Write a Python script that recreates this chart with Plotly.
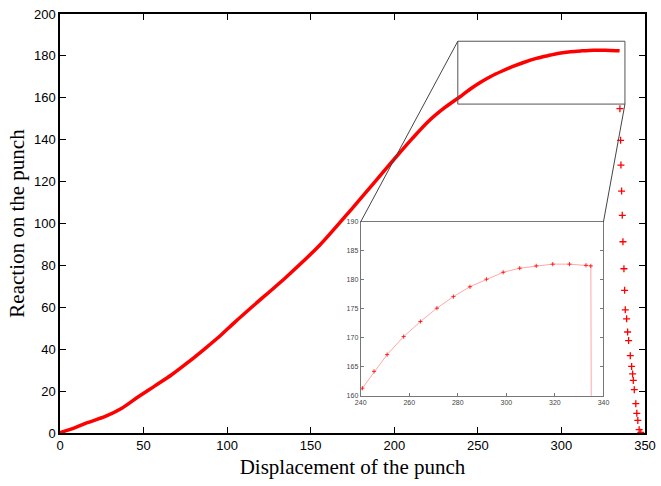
import plotly.graph_objects as go

# loading curve (dense part)
disp = [0, 1.4, 8, 15.2, 27.1, 37.0, 46.9, 56.8, 66.8, 76.7, 86.6, 95.7, 104.5,
        115.5, 135.4, 155.2, 175.1, 188, 200.8, 210.7, 220.5, 230.5,
        240.7, 245.5, 250.9, 257.7, 264.6, 271.4, 278.2, 285.0, 291.8,
        298.7, 305.5, 312.3, 319.1, 326.0, 332.8, 334.8]
force = [0, 0.5, 2.2, 4.6, 7.9, 11.8, 17.3, 22.5, 27.8, 33.8, 40.2, 46.3, 52.8,
         60.6, 74.5, 89.5, 107.5, 119.5, 131.5, 140.5, 148.8, 155.5,
         161.3, 164.2, 167.1, 170.2, 172.8, 175.1, 177.1, 178.8, 180.1,
         181.3, 182.0, 182.4, 182.7, 182.7, 182.5, 182.4]

# unloading tail (sparse points)
tail_disp = [335.0, 335.4, 335.6, 336.0, 336.4, 336.8, 337.4, 337.8, 338.2, 339.0,
             339.6, 340.2, 341.2, 342.0, 342.6, 343.0, 343.6, 344.5, 345.1, 345.7,
             346.5, 347.5]
tail_force = [154.8, 139.7, 127.9, 115.5, 103.9, 91.3, 78.4, 68.1, 58.8, 54.5,
              48.2, 44.1, 36.9, 31.8, 28.2, 25.1, 20.7, 14.0, 9.4, 6.0, 1.6, 0.3]

x_ticks = [0, 50, 100, 150, 200, 250, 300, 350]
y_ticks = [0, 20, 40, 60, 80, 100, 120, 140, 160, 180, 200]
zoom_x_ticks = [240, 260, 280, 300, 320, 340]
zoom_y_ticks = [160, 165, 170, 175, 180, 185, 190]

# zoom box on main axes and inset placement
box_x = [238, 338]
box_y = [157, 187]
inset_dom_x = [0.514, 0.929]
inset_dom_y = [0.089, 0.504]

RED = "#ff0000"
fig = go.Figure()

fig.add_trace(go.Scatter(x=disp, y=force, mode="lines",
                         line=dict(color=RED, width=3.5, shape="spline", smoothing=0.8),
                         showlegend=False))
fig.add_trace(go.Scatter(x=tail_disp, y=tail_force, mode="markers",
                         marker=dict(symbol="cross-thin", size=5, color=RED,
                                     line=dict(color=RED, width=1.3)),
                         showlegend=False))

# inset
fig.add_trace(go.Scatter(x=disp + tail_disp, y=force + tail_force, mode="lines+markers",
                         line=dict(color="rgba(255,0,0,0.35)", width=1),
                         marker=dict(symbol="cross-thin", size=3, color=RED,
                                     line=dict(color=RED, width=0.8)),
                         xaxis="x2", yaxis="y2", showlegend=False, cliponaxis=True))

axis_common = dict(showgrid=False, zeroline=False, ticks="inside", mirror="ticks",
                   showline=True, linecolor="black", linewidth=1.5,
                   tickcolor="black", ticklen=6, automargin=False)
fig.update_layout(
    width=661, height=486,
    margin=dict(l=60, r=10, t=14, b=53),
    plot_bgcolor="white", paper_bgcolor="white",
    font=dict(family="Liberation Sans", size=13, color="black"),
    xaxis=dict(range=[0, 350], tickvals=x_ticks, **axis_common,
               title=dict(text="Displacement of the punch", standoff=7,
                          font=dict(family="Liberation Serif", size=21))),
    yaxis=dict(range=[0, 200], tickvals=y_ticks, **axis_common,
               title=dict(text="Reaction on the punch", standoff=4,
                          font=dict(family="Liberation Serif", size=21))),
    xaxis2=dict(domain=inset_dom_x, anchor="y2", range=[240, 340], tickvals=zoom_x_ticks,
                showgrid=False, zeroline=False, showline=True, mirror=True,
                linecolor="#777", linewidth=1, ticks="inside", ticklen=3, tickcolor="#777",
                tickfont=dict(size=7, color="#444")),
    yaxis2=dict(domain=inset_dom_y, anchor="x2", range=[160, 190], tickvals=zoom_y_ticks,
                showgrid=False, zeroline=False, showline=True, mirror="ticks",
                linecolor="#777", linewidth=1, ticks="inside", ticklen=3, tickcolor="#777",
                tickfont=dict(size=7, color="#444")),
)

# box around the zoomed region
fig.add_shape(type="rect", xref="x", yref="y", x0=box_x[0], x1=box_x[1],
              y0=box_y[0], y1=box_y[1], line=dict(color="#555", width=1))
# connectors from box to inset (paper coords)
fig.add_shape(type="line", xref="paper", yref="paper",
              x0=box_x[0] / 350, y0=box_y[1] / 200,
              x1=inset_dom_x[0], y1=inset_dom_y[1], line=dict(color="#444", width=1))
fig.add_shape(type="line", xref="paper", yref="paper",
              x0=box_x[1] / 350, y0=box_y[0] / 200,
              x1=inset_dom_x[1], y1=inset_dom_y[1], line=dict(color="#444", width=1))
# white background for the inset
fig.add_shape(type="rect", xref="paper", yref="paper", layer="below",
              x0=inset_dom_x[0], x1=inset_dom_x[1], y0=inset_dom_y[0], y1=inset_dom_y[1],
              fillcolor="white", line=dict(width=0))

# drop the page's default body margin so the figure fills the window exactly
fig.write_html("out.html", config={"displayModeBar": False},
               post_script="document.body.style.margin='0';document.body.style.overflow='hidden';")
